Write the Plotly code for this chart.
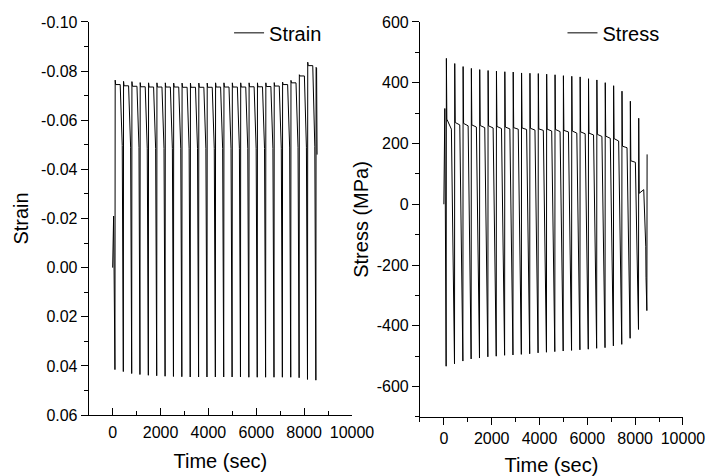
import plotly.graph_objects as go

# ---------------- data ----------------
cycle_times = [105, 455, 805, 1150, 1500, 1850, 2200, 2550, 2900, 3250, 3600, 3950,
               4300, 4650, 5000, 5350, 5700, 6050, 6400, 6750, 7100, 7450, 7800, 8150, 8500]
# offsets (s) of features inside one cycle relative to the peak time
offset_valley = -10
offset_hold_start = 20
offset_hold_end = 210
offset_knee_start = 295
offset_knee_end = 305

strain_start_t = [0, 40]
strain_start = [0.0, -0.021]
strain_valley = [0.0415, 0.0423, 0.0431, 0.0435, 0.0438, 0.0440, 0.0442, 0.0443, 0.0444, 0.0445,
                 0.0445, 0.0445, 0.0445, 0.0445, 0.0445, 0.0445, 0.0446, 0.0446, 0.0446, 0.0446,
                 0.0446, 0.0446, 0.0448, 0.0455, 0.0458]
strain_peak = [-0.0763, -0.0758, -0.0757, -0.0753, -0.0752, -0.0752, -0.0752, -0.0751, -0.0751, -0.0751,
               -0.0751, -0.0751, -0.0752, -0.0752, -0.0752, -0.0752, -0.0752, -0.0752, -0.0752, -0.0753,
               -0.0755, -0.0762, -0.0785, -0.0836, -0.0815]
strain_hold = [-0.0745, -0.0740, -0.0738, -0.0736, -0.0735, -0.0735, -0.0735, -0.0735, -0.0734, -0.0734,
               -0.0734, -0.0734, -0.0735, -0.0735, -0.0735, -0.0735, -0.0736, -0.0736, -0.0737, -0.0739,
               -0.0745, -0.0752, -0.0780, -0.0822]
strain_knee = [-0.0497, -0.0490, -0.0488, -0.0486, -0.0485, -0.0485, -0.0484, -0.0484, -0.0484, -0.0484,
               -0.0484, -0.0484, -0.0484, -0.0484, -0.0484, -0.0484, -0.0484, -0.0485, -0.0485, -0.0486,
               -0.0487, -0.0488, -0.0490, -0.0494]
strain_end_t = [8520, 8540]
strain_end = [-0.0812, -0.0460]

stress_start_t = [0, 40]
stress_start = [0, 315]
stress_valley = [-533, -525, -516, -509, -506, -502, -500, -497, -496, -494, -492, -489, -487,
                 -485, -483, -481, -479, -477, -474, -472, -466, -461, -441, -412, -350]
stress_peak = [480, 463, 453, 447, 443, 440, 438, 436, 435, 432, 431, 430, 428,
               426, 423, 421, 419, 413, 409, 400, 390, 372, 339, 283, 164]
stress_hold_start = [280, 269, 266, 261, 259, 258, 256, 254, 252, 251, 250, 248,
                     247, 246, 243, 241, 238, 234, 230, 224, 216, 191, 143, 36]
stress_hold_end = [247, 261, 258, 254, 252, 251, 249, 248, 247, 246, 244, 243,
                   241, 239, 238, 234, 232, 228, 223, 217, 208, 186, 138, 48]
stress_knee_start = [-270, -275, -278, -278, -280, -280, -280, -280, -280, -280, -280, -280,
                     -280, -280, -280, -278, -276, -272, -270, -265, -258, -245, -215, -140]
stress_knee_end = [-300, -305, -305, -305, -306, -306, -306, -306, -306, -306, -306, -306,
                   -306, -306, -306, -306, -306, -308, -308, -310, -310, -312, -315, -240]

x_ticks = [0, 2000, 4000, 6000, 8000, 10000]
x_ticktext = ["0", "2000", "4000", "6000", "8000", "10000"]
strain_ticks = [-0.10, -0.08, -0.06, -0.04, -0.02, 0.00, 0.02, 0.04, 0.06]
strain_ticktext = ["-0.10", "-0.08", "-0.06", "-0.04", "-0.02", "0.00", "0.02", "0.04", "0.06"]
stress_ticks = [600, 400, 200, 0, -200, -400, -600]
stress_ticktext = ["600", "400", "200", "0", "-200", "-400", "-600"]


# ---------------- assemble the series ----------------
def build(start_t, start_v, valley, peak, hold_a, hold_b, knee_a, knee_b):
    t = list(start_t)
    v = list(start_v)
    n = len(peak)
    for k in range(n):
        p = cycle_times[k]
        t += [p + offset_valley, p]
        v += [valley[k], peak[k]]
        if k < n - 1:
            t += [p + offset_hold_start, p + offset_hold_end, p + offset_knee_start]
            v += [hold_a[k], hold_b[k], knee_a[k]]
            if knee_b is not None:
                t.append(p + offset_knee_end)
                v.append(knee_b[k])
    return t, v


ts, ys = build(strain_start_t, strain_start, strain_valley, strain_peak,
               strain_hold, strain_hold, strain_knee, None)
ts += strain_end_t
ys += strain_end
tt, yt = build(stress_start_t, stress_start, stress_valley, stress_peak,
               stress_hold_start, stress_hold_end, stress_knee_start, stress_knee_end)

FONT = "Arial, Liberation Sans, sans-serif"

fig = go.Figure()
fig.add_trace(go.Scatter(x=ts, y=ys, mode="lines", name="Strain",
                         line=dict(color="black", width=1),
                         xaxis="x", yaxis="y", legend="legend"))
fig.add_trace(go.Scatter(x=tt, y=yt, mode="lines", name="Stress",
                         line=dict(color="black", width=1),
                         xaxis="x2", yaxis="y2", legend="legend2"))

axis_common = dict(showline=True, linecolor="black", linewidth=1, showgrid=False,
                   zeroline=False, tickcolor="black", tickwidth=1, ticklen=7,
                   automargin=False,
                   tickfont=dict(family=FONT, size=16, color="black"),
                   title_font=dict(family=FONT, size=20, color="black"))

fig.update_layout(
    width=707, height=476,
    margin=dict(l=0, r=0, t=0, b=0, autoexpand=False),
    paper_bgcolor="white", plot_bgcolor="white",
    font=dict(family=FONT, color="black"),
    xaxis=dict(domain=[0.1255, 0.4979], range=[-1000, 10000], anchor="y",
               tickmode="array", tickvals=x_ticks, ticktext=x_ticktext, ticks="inside",
               ticklabelstandoff=3,
               minor=dict(ticks="inside", dtick=1000, tick0=-1000, ticklen=4, tickcolor="black"),
               title=dict(text="Time (sec)", standoff=13), **axis_common),
    yaxis=dict(domain=[0.128, 0.954], range=[0.06, -0.10], anchor="x",
               tickmode="array", tickvals=strain_ticks, ticktext=strain_ticktext, ticks="outside",
               minor=dict(ticks="outside", dtick=0.01, tick0=0.0, ticklen=4, tickcolor="black"),
               title=dict(text="Strain", standoff=7), **axis_common),
    xaxis2=dict(domain=[0.594, 0.966], range=[-1000, 10000], anchor="y2",
                tickmode="array", tickvals=x_ticks, ticktext=x_ticktext, ticks="outside",
                ticklabelstandoff=0,
                minor=dict(ticks="outside", dtick=1000, tick0=-1000, ticklen=4, tickcolor="black"),
                title=dict(text="Time (sec)", standoff=23), **axis_common),
    yaxis2=dict(domain=[0.124, 0.954], range=[-700, 600], anchor="x2",
                tickmode="array", tickvals=stress_ticks, ticktext=stress_ticktext, ticks="outside",
                minor=dict(ticks="outside", dtick=100, tick0=0, ticklen=4, tickcolor="black"),
                title=dict(text="Stress (MPa)", standoff=2), **axis_common),
    legend=dict(x=0.324, y=0.931, xanchor="left", yanchor="middle",
                bgcolor="rgba(0,0,0,0)", font=dict(family=FONT, size=20, color="black")),
    legend2=dict(x=0.7956, y=0.931, xanchor="left", yanchor="middle",
                 bgcolor="rgba(0,0,0,0)", font=dict(family=FONT, size=20, color="black")),
    showlegend=True,
)

fig.write_html("out.html", config={"displayModeBar": False},
               post_script="document.body.style.margin='0';document.body.style.overflow='hidden';")
